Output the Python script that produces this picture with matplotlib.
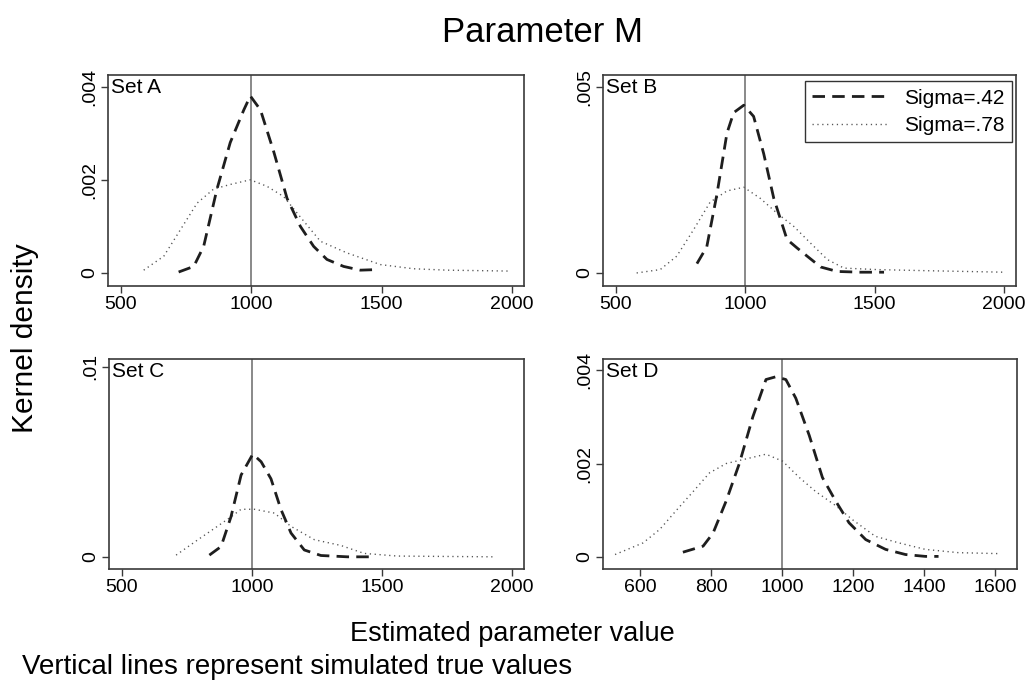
import matplotlib
matplotlib.use("Agg")
import matplotlib.pyplot as plt

plt.rcParams['font.family'] = ['Liberation Sans', 'DejaVu Sans']

# ---------------- data ----------------
true_value = 1000

# Set A
a_s42_x = [721, 779, 817, 868, 919, 971, 996, 1035, 1086, 1137, 1188, 1239, 1290, 1354, 1418, 1469]
a_s42_y = [0.00002, 0.00014, 0.00057, 0.0018, 0.0028, 0.0035, 0.0038, 0.0035, 0.0026, 0.0016,
           0.0010, 0.00057, 0.00029, 0.00014, 0.00006, 0.00007]
a_s78_x = [587, 664, 728, 792, 855, 919, 996, 1060, 1124, 1188, 1265, 1367, 1495, 1623, 1751, 1994]
a_s78_y = [0.00006, 0.00036, 0.00093, 0.0015, 0.0018, 0.0019, 0.0020, 0.00186, 0.00164, 0.0012,
           0.00068, 0.00043, 0.00018, 0.00009, 0.00006, 0.00004]

# Set B
b_s42_x = [813, 851, 890, 929, 955, 994, 1032, 1071, 1110, 1161, 1200, 1239, 1291, 1355, 1446, 1536]
b_s42_y = [0.00025, 0.0007, 0.0021, 0.00375, 0.0043, 0.0045, 0.0042, 0.0032, 0.0020, 0.0009,
           0.00067, 0.00045, 0.00016, 0.00004, 0.00002, 0.00002]
b_s78_x = [580, 671, 735, 800, 864, 929, 994, 1058, 1123, 1187, 1252, 1317, 1381, 1510, 1704, 2001]
b_s78_y = [0.0, 0.00009, 0.00045, 0.00116, 0.0019, 0.0022, 0.0023, 0.0020, 0.0016, 0.00125,
           0.0008, 0.00036, 0.00013, 0.00009, 0.00006, 0.00002]

# Set C
c_s42_x = [836, 881, 919, 958, 1003, 1035, 1073, 1111, 1150, 1201, 1265, 1367, 1469]
c_s42_y = [0.00009, 0.00054, 0.0021, 0.0043, 0.0054, 0.0050, 0.0041, 0.0025, 0.00125, 0.00036,
           0.00007, 0.0, 0.0]
c_s78_x = [708, 792, 856, 919, 958, 1009, 1086, 1150, 1240, 1341, 1431, 1559, 1930]
c_s78_y = [0.00009, 0.0009, 0.0015, 0.0021, 0.0025, 0.0025, 0.0023, 0.0016, 0.0009, 0.0006,
           0.00018, 0.00004, 0.0]

# Set D
d_s42_x = [721, 778, 806, 843, 880, 918, 955, 983, 1011, 1039, 1077, 1114, 1151, 1189, 1236,
           1292, 1348, 1404, 1441]
d_s42_y = [0.0001, 0.00023, 0.00051, 0.0012, 0.0020, 0.0030, 0.0038, 0.00386, 0.0038, 0.0034,
           0.0026, 0.0017, 0.0012, 0.00073, 0.00037, 0.00016, 0.00005, 0.00001, 0.00001]
d_s78_x = [530, 609, 656, 703, 750, 796, 843, 899, 955, 1002, 1049, 1095, 1151, 1198, 1263,
           1329, 1404, 1497, 1609]
d_s78_y = [0.00005, 0.0003, 0.00059, 0.0010, 0.0014, 0.0018, 0.0020, 0.0021, 0.0022, 0.00205,
           0.0017, 0.0014, 0.0011, 0.0008, 0.00044, 0.0003, 0.00016, 0.00009, 0.00007]

panel_names = ["Set A", "Set B", "Set C", "Set D"]
series_labels = ["Sigma=.42", "Sigma=.78"]

a_xticks = [500, 1000, 1500, 2000]
b_xticks = [500, 1000, 1500, 2000]
c_xticks = [500, 1000, 1500, 2000]
d_xticks = [600, 800, 1000, 1200, 1400, 1600]

a_yticks = [0, 0.002, 0.004]
a_yticklabels = ["0", ".002", ".004"]
b_yticks = [0, 0.005]
b_yticklabels = ["0", ".005"]
c_yticks = [0, 0.01]
c_yticklabels = ["0", ".01"]
d_yticks = [0, 0.002, 0.004]
d_yticklabels = ["0", ".002", ".004"]

# ---------------- figure ----------------
fig = plt.figure(figsize=(10.28, 6.88), dpi=100)

W, H = 1028.0, 688.0
def ax_at(l, t, r, b):
    return fig.add_axes([l / W, 1 - b / H, (r - l) / W, (b - t) / H])

axA = ax_at(108, 75, 524, 286)
axB = ax_at(603, 75, 1016, 286)
axC = ax_at(109, 359, 524, 569)
axD = ax_at(603, 359, 1017, 569)

panels = [
    (axA, a_s42_x, a_s42_y, a_s78_x, a_s78_y, a_xticks, a_yticks, a_yticklabels, (450, 2046), (-0.00028, 0.00425)),
    (axB, b_s42_x, b_s42_y, b_s78_x, b_s78_y, b_xticks, b_yticks, b_yticklabels, (450, 2046), (-0.00035, 0.00531)),
    (axC, c_s42_x, c_s42_y, c_s78_x, c_s78_y, c_xticks, c_yticks, c_yticklabels, (450, 2046), (-0.00064, 0.0104)),
    (axD, d_s42_x, d_s42_y, d_s78_x, d_s78_y, d_xticks, d_yticks, d_yticklabels, (496, 1662), (-0.00026, 0.00424)),
]

frame_col = "#3a3a3a"
for i, (ax, x1, y1, x2, y2, xt, yt, ytl, xl, yl) in enumerate(panels):
    ax.axvline(true_value, color="#808080", lw=1.3, zorder=1)
    l1, = ax.plot(x2, y2, color="#555555", lw=1.0, dashes=(0.9, 2.6), zorder=2)
    l0, = ax.plot(x1, y1, color="#1e1e1e", lw=2.0, dashes=(4.5, 2.6), zorder=3)
    ax.set_xlim(*xl)
    ax.set_ylim(*yl)
    ax.set_xticks(xt)
    ax.set_xticklabels([str(v) for v in xt])
    ax.set_yticks(yt)
    ax.set_yticklabels(ytl, rotation=90, va="center")
    ax.tick_params(axis="both", direction="out", length=5, width=1.0, color=frame_col,
                   labelsize=14, pad=2)
    for sp in ax.spines.values():
        sp.set_color(frame_col)
        sp.set_linewidth(1.2)
    ax.text(0.008, 0.985, panel_names[i], transform=ax.transAxes, ha="left", va="top",
            fontsize=15)
    if i == 1:
        leg = ax.legend([l0, l1], series_labels, loc="upper right",
                        bbox_to_anchor=(0.99, 0.97), fontsize=15, frameon=True,
                        fancybox=False, handlelength=3.6, handletextpad=0.8,
                        borderpad=0.35, labelspacing=0.4, borderaxespad=0.0)
        leg.get_frame().set_edgecolor("black")
        leg.get_frame().set_linewidth(1.0)

fig.text(543 / W, 1 - 33 / H, "Parameter M", ha="center", va="center", fontsize=25)
fig.text(25 / W, 1 - 338 / H, "Kernel density", ha="center", va="center",
         rotation=90, fontsize=21.5)
fig.text(512 / W, 1 - 634 / H, "Estimated parameter value", ha="center", va="center",
         fontsize=19.5)
fig.text(22 / W, 1 - 667 / H, "Vertical lines represent simulated true values", ha="left",
         va="center", fontsize=20)

fig.savefig("out.png", dpi=100)
